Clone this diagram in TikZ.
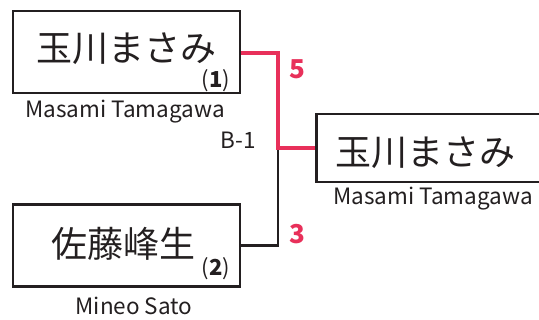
\documentclass[tikz,border=0pt]{standalone}
\usepackage{fontspec}
\setmainfont{Noto Sans CJK JP}
\newfontfamily\cjk{Noto Sans CJK JP}
\definecolor{winred}{RGB}{232,48,90}
\definecolor{ink}{RGB}{35,31,32}
\begin{document}
\begin{tikzpicture}[x=1pt,y=-1pt,
  player/.style={draw=ink,line width=2.6pt,minimum width=227pt,minimum height=82pt,inner sep=0pt},
  nameja/.style={font=\fontsize{36}{36}\selectfont\cjk,text=ink,inner sep=0pt},
  namela/.style={font=\fontsize{22.5}{22.5}\selectfont,text=ink,inner sep=0pt},
  seed/.style={font=\fontsize{22}{22}\selectfont,text=ink,inner sep=0pt},
  score/.style={font=\fontsize{26}{26}\selectfont\bfseries,text=winred,inner sep=0pt},
  win/.style={draw=winred,line width=4.5pt},
  lose/.style={draw=ink,line width=2.5pt}]
\useasboundingbox (0,0) rectangle (539,320);
\begin{scope}
\clip (0,0) rectangle (539,320);
\node[player] (p1) at (126.5,52) {};
\node[player] (p2) at (126.5,245.5) {};
\node[player,minimum width=260pt,minimum height=68pt,anchor=west] (w) at (315,148) {};
\end{scope}
\node[nameja] (t1) at (127,49) {玉川まさみ};
\node[seed] (s1) at (216,81) {(\textbf{1})};
\node[namela] (l1) at (125,112) {Masami Tamagawa};
\node[nameja] (t2) at (124,244) {佐藤峰生};
\node[seed] (s2) at (216,269) {(\textbf{2})};
\node[namela] (l2) at (134,306) {Mineo Sato};
\node[nameja] (tw) at (425,153) {玉川まさみ};
\node[namela] (lw) at (433,199) {Masami Tamagawa};
\node[namela] (b1) at (238,140) {B-1};
\node[score] (sc1) at (297,69) {5};
\node[score] (sc2) at (297,234) {3};
\coordinate (j) at (278,148);
\draw[lose] (p2.east) -| (j);
\draw[win,line cap=butt] (p1.east |- 0,53) -| (j) -- (w.west);
\end{tikzpicture}
\end{document}
